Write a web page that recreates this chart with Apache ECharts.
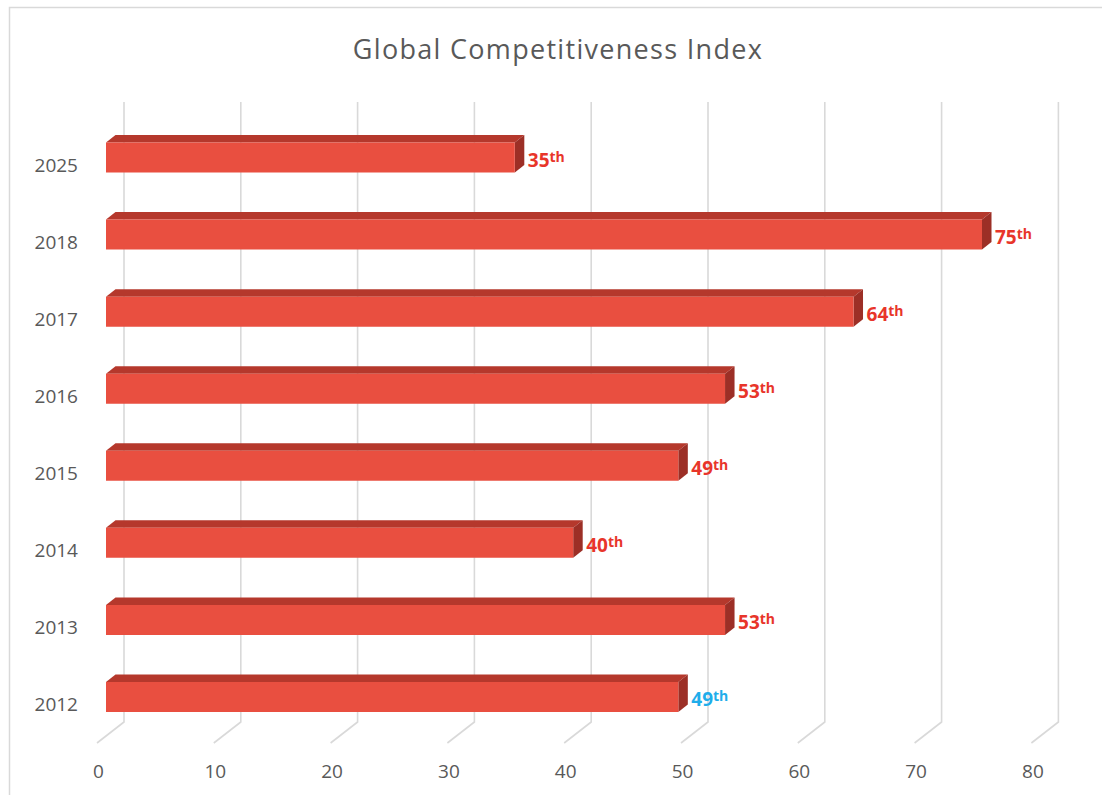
<!DOCTYPE html>
<html>
<head>
<meta charset="utf-8">
<script src="https://cdn.jsdelivr.net/npm/echarts@6/dist/echarts.min.js"></script>
<style>
  html, body { margin: 0; padding: 0; background: #ffffff; }
  #chart { width: 1102px; height: 795px; }
</style>
</head>
<body>
<div id="chart"></div>
<script>
// Ranking by year (bottom to top on the category axis)
const years = ['2012', '2013', '2014', '2015', '2016', '2017', '2018', '2025'];
const ranks = [49, 53, 40, 49, 53, 64, 75, 35];
const labelColors = ['#1fadea', '#e8352a', '#e8352a', '#e8352a', '#e8352a', '#e8352a', '#e8352a', '#e8352a'];
const xTicks = [0, 10, 20, 30, 40, 50, 60, 70, 80];
const titleText = 'Global Competitiveness Index';

const FONT = '"Open Sans", "DejaVu Sans", sans-serif';
const DEPTH_X = 9.5, DEPTH_Y = -7.5;   // oblique offset of the bar's back face

const chart = echarts.init(document.getElementById('chart'), null, { renderer: 'svg' });

// Perspective gridlines: slanted floor stroke, then a vertical line on the back wall
function renderGrid(params, api) {
  const v = api.value(0);
  const p = api.coord([v, 0]);
  const band = api.size([0, 1])[1];
  const floorY = p[1] + band / 2;
  const topY = api.coord([v, years.length - 1])[1] - band / 2 - 17;
  const frontX = p[0] - 9;
  const backX = p[0] + 18;
  return {
    type: 'polyline',
    shape: { points: [[frontX, floorY + 7.5], [backX, floorY - 13.5], [backX, topY]] },
    style: { stroke: '#d9d9d9', lineWidth: 1.6, fill: null },
    silent: true
  };
}

// 3D-looking bar: front face, top face, right side face and the rank label
function renderBar(params, api) {
  const v = api.value(0);
  const c = api.value(1);
  const p0 = api.coord([0, c]);
  const p1 = api.coord([v, c]);
  const h = api.size([0, 1])[1] * 0.39;
  const x0 = p0[0], x1 = p1[0];
  const yt = p0[1] - h / 2, yb = p0[1] + h / 2;
  const idx = params.dataIndex;
  return {
    type: 'group',
    children: [
      {
        type: 'polygon',
        shape: { points: [[x0, yt], [x1, yt], [x1 + DEPTH_X, yt + DEPTH_Y], [x0 + DEPTH_X, yt + DEPTH_Y]] },
        style: { fill: '#b5382c' }
      },
      {
        type: 'polygon',
        shape: { points: [[x1, yt], [x1 + DEPTH_X, yt + DEPTH_Y], [x1 + DEPTH_X, yb + DEPTH_Y], [x1, yb]] },
        style: { fill: '#9c2f26' }
      },
      {
        type: 'rect',
        shape: { x: x0, y: yt, width: x1 - x0, height: h },
        style: { fill: '#e94f40' }
      },
      {
        type: 'text',
        x: x1 + 13,
        y: p0[1] + 2.5,
        style: {
          text: '{n|' + v + '}{s|th}',
          align: 'left',
          verticalAlign: 'middle',
          rich: {
            n: { fontSize: 19, fontWeight: 'bold', fontFamily: FONT, fill: labelColors[idx], lineHeight: 22 },
            s: { fontSize: 14, fontWeight: 'bold', fontFamily: FONT, fill: labelColors[idx], verticalAlign: 'top', lineHeight: 22, padding: [0, 0, 6, 0] }
          }
        }
      }
    ]
  };
}

chart.setOption({
  backgroundColor: '#ffffff',
  animation: false,
  graphic: [
    {
      type: 'rect',
      shape: { x: 9.5, y: 7.5, width: 1200, height: 900 },
      style: { fill: null, stroke: '#d9d9d9', lineWidth: 1.5 },
      silent: true,
      z: -10
    },
    {
      type: 'text',
      id: 'chartTitle',
      x: 558,
      y: 48,
      style: {
        text: titleText,
        align: 'center',
        verticalAlign: 'middle',
        font: '27px ' + FONT,
        fill: '#595959'
      }
    }
  ],
  grid: { left: 106, right: 61.6, top: 119, bottom: 59.5 },
  xAxis: {
    type: 'value',
    min: 0,
    max: 80,
    interval: 10,
    axisLine: { show: false },
    axisTick: { show: false },
    splitLine: { show: false },
    axisLabel: {
      margin: 25,
      color: '#595959',
      fontSize: 19,
      fontFamily: FONT,
      lineHeight: 20,
      padding: [0, 15, 0, 0],
      formatter: (val) => (xTicks.indexOf(val) >= 0 ? String(val) : '')
    }
  },
  yAxis: {
    type: 'category',
    data: years,
    axisLine: { show: false },
    axisTick: { show: false },
    splitLine: { show: false },
    axisLabel: {
      margin: 28,
      color: '#595959',
      fontSize: 19,
      fontFamily: FONT,
      verticalAlign: 'top',
      lineHeight: 14
    }
  },
  series: [
    {
      type: 'custom',
      renderItem: renderGrid,
      encode: { x: 0, y: 1 },
      data: xTicks.map((t) => [t, 0]),
      z: 1,
      silent: true
    },
    {
      type: 'custom',
      renderItem: renderBar,
      encode: { x: 0, y: 1 },
      data: ranks.map((r, i) => [r, i]),
      z: 2
    }
  ]
});

// The title is set with slightly open tracking
document.querySelectorAll('#chart svg text').forEach((el) => {
  if (el.textContent === titleText) {
    el.style.letterSpacing = '1.3px';
  }
});
</script>
</body>
</html>
